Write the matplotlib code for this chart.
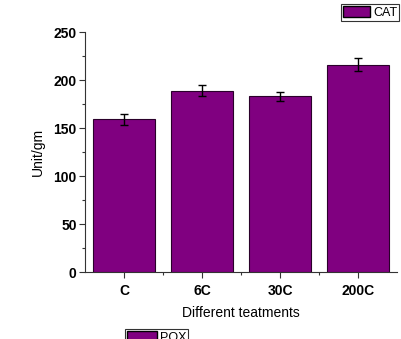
import matplotlib
matplotlib.use("Agg")
import matplotlib.pyplot as plt
from matplotlib.patches import Patch
from matplotlib.ticker import MultipleLocator

plt.rcParams['font.family'] = ['Liberation Sans', 'DejaVu Sans']

# data
treatments = ["C", "6C", "30C", "200C"]
cat_values = [159, 189, 183, 216]
cat_errors = [6, 6, 4.5, 6.5]

purple = '#800080'

fig = plt.figure(figsize=(4.02, 3.39), dpi=100)
ax = fig.add_axes([85 / 402, 67 / 339, 312 / 402, 240 / 339])

x = range(len(treatments))
ax.bar(x, cat_values, width=0.8, color=purple, edgecolor='#2a002a', linewidth=0.8,
       yerr=cat_errors, capsize=3, error_kw=dict(elinewidth=1, capthick=1, ecolor='black'))

ax.set_xlim(-0.5, 3.5)
ax.set_ylim(0, 250)
ax.set_xticks(list(x))
ax.set_xticklabels(treatments, fontweight='bold', fontsize=10)
ax.set_xticks([0.5, 1.5, 2.5], minor=True)
ax.yaxis.set_major_locator(MultipleLocator(50))
ax.yaxis.set_minor_locator(MultipleLocator(25))
for lbl in ax.get_yticklabels():
    lbl.set_fontweight('bold')
    lbl.set_fontsize(10)

ax.tick_params(axis='both', which='major', direction='out', length=4, width=0.8, colors='#333333',
               labelcolor='black')
ax.tick_params(axis='y', which='major', pad=2)
ax.tick_params(axis='x', which='major', pad=4.5)
ax.tick_params(axis='both', which='minor', direction='out', length=2.5, width=0.8, colors='#333333')
ax.spines['top'].set_visible(False)
ax.spines['right'].set_visible(False)
ax.spines['left'].set_color('#333333')
ax.spines['bottom'].set_color('#333333')

ax.set_ylabel('Unit/gm', fontsize=10, labelpad=6)
ax.set_xlabel('Different teatments', fontsize=10, labelpad=6)

legend_kw = dict(frameon=True, fancybox=False, edgecolor='black', fontsize=9,
                 handleheight=1.0, borderpad=0.15, handletextpad=0.25,
                 borderaxespad=0)
leg1 = fig.legend(handles=[Patch(facecolor=purple, edgecolor='black', label='CAT')],
                  loc='upper left', bbox_to_anchor=(341 / 402, 1 - 4 / 339),
                  handlelength=2.2, **legend_kw)
leg1.get_frame().set_linewidth(0.8)
leg2 = fig.legend(handles=[Patch(facecolor=purple, edgecolor='black', label='POX')],
                  loc='upper left', bbox_to_anchor=(125 / 402, 1 - 329 / 339),
                  handlelength=2.4, **legend_kw)
leg2.get_frame().set_linewidth(0.8)

fig.savefig('out.png', dpi=100)
